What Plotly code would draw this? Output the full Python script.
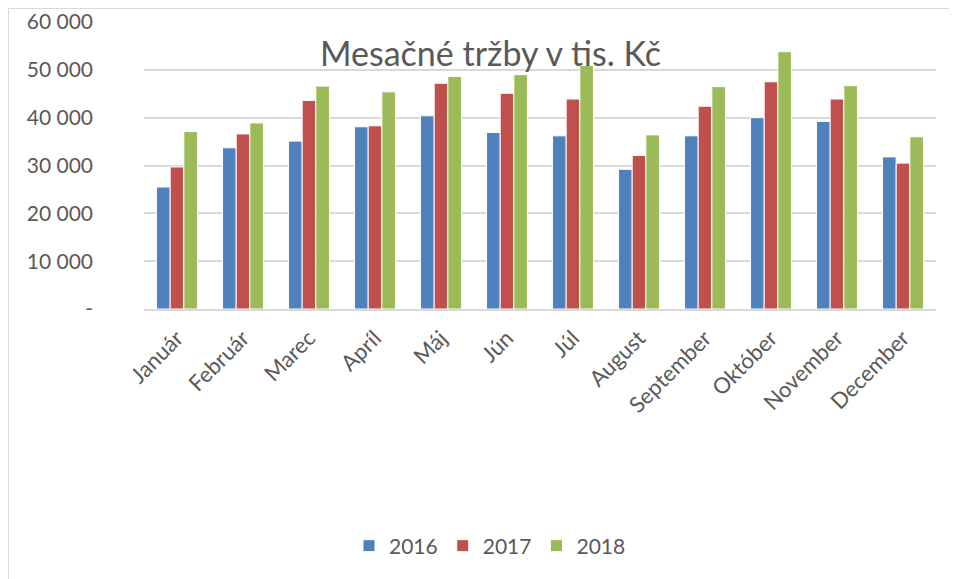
import plotly.graph_objects as go

months = ["Január", "Február", "Marec", "Apríl", "Máj", "Jún", "Júl",
          "August", "September", "Október", "November", "December"]
y2016 = [25500, 33700, 35100, 38100, 40400, 36900, 36200, 29200, 36200, 40000, 39200, 31800]
y2017 = [29700, 36600, 43600, 38300, 47200, 45100, 43900, 32100, 42400, 47500, 43900, 30500]
y2018 = [37100, 38900, 46600, 45400, 48600, 49000, 50900, 36400, 46500, 53800, 46700, 36000]
years = ["2016", "2017", "2018"]
colors = ["#4F81BD", "#C0504D", "#9BBB59"]
tickvals = [0, 10000, 20000, 30000, 40000, 50000, 60000]
ticktext = ["-", "10 000", "20 000", "30 000", "40 000", "50 000", "60 000"]
title = "Mesačné tržby v tis. Kč"

FONT = "Lato"
W, H = 957, 579
L, R, T, B = 136, 29, 14, 278

fig = go.Figure()
for name, vals, c in zip(years, [y2016, y2017, y2018], colors):
    fig.add_trace(go.Bar(x=months, y=vals, name=name, marker_color=c,
                         marker_line_color="white", marker_line_width=1))

pw = W - L - R
ph = H - T - B
def px_x(p):
    return (p - L) / pw
def px_y(p):
    return (H - B - p) / ph

fig.update_layout(
    width=W, height=H,
    margin=dict(l=L, r=R, t=T, b=B, autoexpand=False),
    paper_bgcolor="white", plot_bgcolor="white",
    barmode="group", bargap=0.38, bargroupgap=0,
    font=dict(family=FONT, color="#595959"),
    showlegend=True,
    legend=dict(orientation="h", x=px_x(482), xanchor="center", xref="paper",
                y=px_y(538), yanchor="middle", font=dict(size=21, color="#595959"),
                itemwidth=30, traceorder="normal"),
    xaxis=dict(tickangle=-45, tickfont=dict(size=22, color="#595959"),
               showgrid=False, showline=True, linecolor="#D9D9D9", linewidth=1.5,
               ticks="", fixedrange=True, ticklabelstandoff=6),
    yaxis=dict(range=[0, 60000], tickvals=tickvals, ticktext=ticktext,
               tickfont=dict(size=21, color="#595959"), showgrid=True,
               gridcolor="#D9D9D9", gridwidth=1.5, zeroline=False,
               showline=False, ticks="", ticklabelstandoff=50),
    annotations=[dict(text=title, x=px_x(482), y=px_y(44), xref="paper", yref="paper",
                      showarrow=False, xanchor="center", yanchor="middle",
                      font=dict(size=34, color="#595959", family=FONT))],
    shapes=[dict(type="rect", xref="paper", yref="paper",
                 x0=px_x(0.5), x1=px_x(956.5), y0=px_y(578.5), y1=px_y(0.5),
                 line=dict(color="#D9D9D9", width=1), layer="below")],
)

fig.write_html("out.html")
